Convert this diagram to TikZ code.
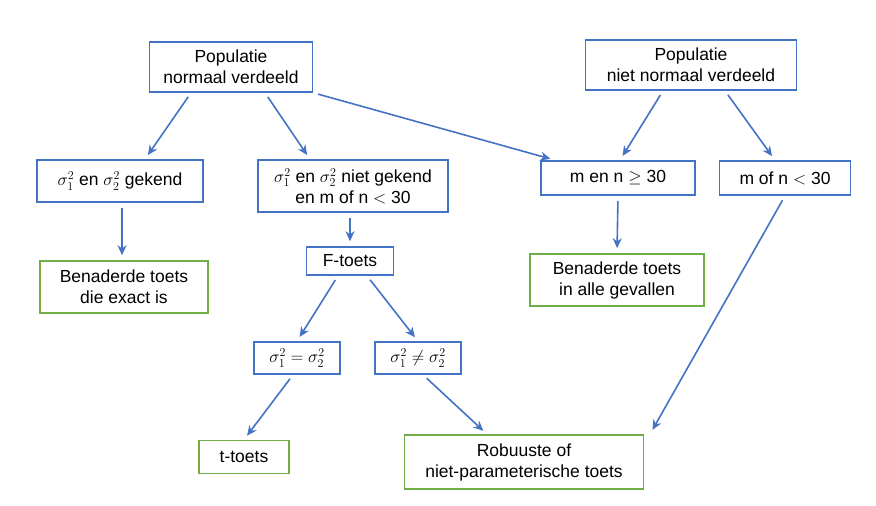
\documentclass[tikz,border=0pt]{standalone}
\usepackage{fontspec}
\setmainfont{Liberation Sans}
\usetikzlibrary{arrows.meta,positioning}
\definecolor{boxblue}{RGB}{68,114,196}
\definecolor{boxgreen}{RGB}{112,173,71}
\tikzset{
  blok/.style={draw=boxblue, line width=1.6pt, align=center, inner sep=2pt, font=\fontsize{17.5}{21}\selectfont},
  eind/.style={blok, draw=boxgreen},
  pijl/.style={-{Stealth[length=10pt,width=9pt]}, draw=boxblue, line width=1.6pt, shorten <=5pt, shorten >=5pt}
}
\begin{document}
\begin{tikzpicture}[x=1pt,y=-1pt]
 \useasboundingbox (0,0) rectangle (876,506);

 \node[blok, minimum width=163pt, minimum height=50pt] (popn) at (231,67) {Populatie\\normaal verdeeld};
 \node[blok, minimum width=211pt, minimum height=50pt] (popnn) at (691,65) {Populatie\\niet normaal verdeeld};

 \node[blok, minimum width=166pt, minimum height=42pt] (gekend) at (120,181) {$\sigma_1^2$ en $\sigma_2^2$ gekend};
 \node[blok, minimum width=190pt, minimum height=52pt] (nietgekend) at (353,186) {$\sigma_1^2$ en $\sigma_2^2$ niet gekend\\en m of n $<$ 30};
 \node[blok, minimum width=154pt, minimum height=34pt] (groot) at (618,178) {m en n $\geq$ 30};
 \node[blok, minimum width=131pt, minimum height=34pt] (klein) at (785,178) {m of n $<$ 30};

 \node[eind, minimum width=168pt, minimum height=52pt] (exact) at (124,287) {Benaderde toets\\die exact is};
 \node[blok, minimum width=87pt, minimum height=28pt] (ftoets) at (350,261) {F-toets};
 \node[eind, minimum width=174pt, minimum height=52pt] (alle) at (617,280) {Benaderde toets\\in alle gevallen};

 \node[blok, minimum width=86pt, minimum height=32pt] (gelijk) at (297,358) {$\sigma_1^2 = \sigma_2^2$};
 \node[blok, minimum width=86pt, minimum height=32pt] (ongelijk) at (418,358) {$\sigma_1^2 \neq \sigma_2^2$};

 \node[eind, minimum width=90pt, minimum height=33pt] (ttoets) at (244,457) {t-toets};
 \node[eind, minimum width=239pt, minimum height=54pt] (robuust) at (524,462) {Robuuste of\\niet-parameterische toets};

 \draw[pijl] ([xshift=-40pt]popn.south) -- ([xshift=25pt]gekend.north);
 \draw[pijl] ([xshift=34pt]popn.south) -- ([xshift=-43pt]nietgekend.north);
 \draw[pijl] (popn.south east) -- ([xshift=15pt]groot.north west);
 \draw[pijl] ([xshift=-28pt]popnn.south) -- ([xshift=2pt]groot.north);
 \draw[pijl] ([xshift=34pt]popnn.south) -- ([xshift=-10pt]klein.north);
 \draw[pijl] ([xshift=2pt]gekend.south) -- ([xshift=-2pt]exact.north);
 \draw[pijl] ([xshift=-3pt]nietgekend.south) -- (ftoets.north);
 \draw[pijl] (groot.south) -- (alle.north);
 \draw[pijl] ([xshift=-12pt]ftoets.south) -- (gelijk.north);
 \draw[pijl] ([xshift=17pt]ftoets.south) -- (ongelijk.north);
 \draw[pijl] ([xshift=-4pt]gelijk.south) -- (ttoets.north);
 \draw[pijl] ([xshift=5pt]ongelijk.south) -- ([xshift=-37pt]robuust.north);
 \draw[pijl] (klein.south) -- ([xshift=126pt]robuust.north);
\end{tikzpicture}
\end{document}
